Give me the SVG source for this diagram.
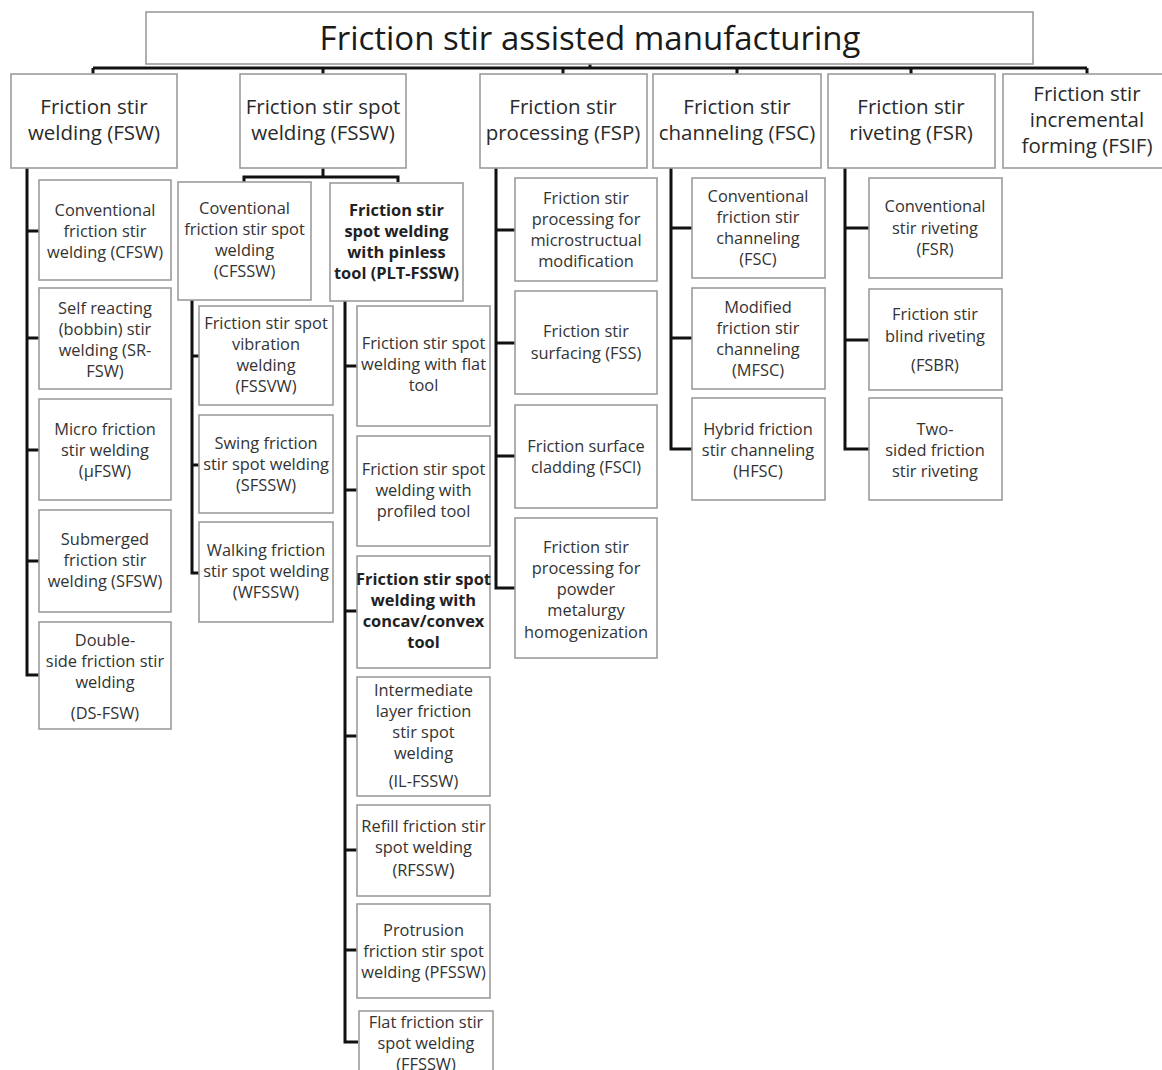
<svg xmlns="http://www.w3.org/2000/svg" width="1162" height="1070" viewBox="0 0 1162 1070">
<style>
rect{fill:#fff;stroke:#9c9c9c;stroke-width:1.6}
text{font-family:"Open Sans","Liberation Sans",sans-serif;fill:#333;text-anchor:middle}
.t0{font-size:33px;fill:#1a1a1a}
.t1{font-size:20.5px;fill:#2a2a2a}
.t2{font-size:16.4px}
.b{font-weight:bold;fill:#222}
#connectors path{fill:none;stroke:#111;stroke-width:3}
</style>
<rect x="0" y="0" width="1162" height="1070" style="fill:#fff;stroke:none"/>
<g id="connectors">
<path d="M590 64V68M93 68H1087M93 68V74M323 68V74M563 68V74M737 68V74M911 68V74M1087 68V74"/>
<path d="M27 168V675H39M27 231H39M27 338H39M27 450H39M27 561H39"/>
<path d="M323 168V177M244 182V177H398V182"/>
<path d="M192 300V573H199M192 356H199M192 465H199"/>
<path d="M345 301V1042H358M345 366H357M345 490H357M345 611H357M345 736H357M345 850H357M345 950H357"/>
<path d="M496 168V588H515M496 230H515M496 343H515M496 456H515"/>
<path d="M671 168V449H692M671 228H692M671 338H692"/>
<path d="M845 168V449H869M845 228H869M845 340H869"/>
</g>
<g id="root"><rect x="146" y="12" width="887" height="52"/><text class="t0" x="590" y="50">Friction stir assisted manufacturing</text></g>
<g id="fsw"><rect x="11" y="74" width="166" height="94"/><text class="t1"><tspan x="94" y="114">Friction stir</tspan><tspan x="94" y="140">welding (FSW)</tspan></text></g>
<g id="fssw"><rect x="240" y="74" width="166" height="94"/><text class="t1"><tspan x="323" y="114">Friction stir spot</tspan><tspan x="323" y="140">welding (FSSW)</tspan></text></g>
<g id="fsp"><rect x="480" y="74" width="167" height="94"/><text class="t1"><tspan x="563" y="114">Friction stir</tspan><tspan x="563" y="140">processing (FSP)</tspan></text></g>
<g id="fsc"><rect x="653" y="74" width="168" height="94"/><text class="t1"><tspan x="737" y="114">Friction stir</tspan><tspan x="737" y="140">channeling (FSC)</tspan></text></g>
<g id="fsr"><rect x="828" y="74" width="167" height="94"/><text class="t1"><tspan x="911" y="114">Friction stir</tspan><tspan x="911" y="140">riveting (FSR)</tspan></text></g>
<g id="fsif"><rect x="1003" y="74" width="170" height="94"/><text class="t1"><tspan x="1087" y="101">Friction stir</tspan><tspan x="1087" y="127">incremental</tspan><tspan x="1087" y="153">forming (FSIF)</tspan></text></g>

<g id="cfsw"><rect x="39" y="180" width="132" height="100"/><text class="t2"><tspan x="105" y="216">Conventional</tspan><tspan x="105" y="237">friction stir</tspan><tspan x="105" y="258">welding (CFSW)</tspan></text></g>
<g id="srfsw"><rect x="39" y="288" width="132" height="101"/><text class="t2"><tspan x="105" y="314">Self reacting</tspan><tspan x="105" y="335">(bobbin) stir</tspan><tspan x="105" y="356">welding  (SR-</tspan><tspan x="105" y="377">FSW)</tspan></text></g>
<g id="ufsw"><rect x="39" y="399" width="132" height="101"/><text class="t2"><tspan x="105" y="435">Micro friction</tspan><tspan x="105" y="456">stir welding</tspan><tspan x="105" y="477">(µFSW)</tspan></text></g>
<g id="sfsw"><rect x="39" y="510" width="132" height="102"/><text class="t2"><tspan x="105" y="545">Submerged</tspan><tspan x="105" y="566">friction stir</tspan><tspan x="105" y="587">welding (SFSW)</tspan></text></g>
<g id="dsfsw"><rect x="39" y="622" width="132" height="107"/><text class="t2"><tspan x="105" y="646">Double-</tspan><tspan x="105" y="667">side friction stir</tspan><tspan x="105" y="688">welding</tspan><tspan x="105" y="719">(DS-FSW)</tspan></text></g>

<g id="cfssw"><rect x="178" y="182" width="133" height="118"/><text class="t2"><tspan x="244.5" y="214">Coventional</tspan><tspan x="244.5" y="235">friction stir spot</tspan><tspan x="244.5" y="256">welding</tspan><tspan x="244.5" y="277">(CFSSW)</tspan></text></g>
<g id="pltfssw"><rect x="330" y="183" width="133" height="118"/><text class="t2 b"><tspan x="396.5" y="216">Friction  stir</tspan><tspan x="396.5" y="237">spot welding</tspan><tspan x="396.5" y="258">with pinless</tspan><tspan x="396.5" y="279">tool (PLT-FSSW)</tspan></text></g>

<g id="fssvw"><rect x="199" y="306" width="134" height="99"/><text class="t2"><tspan x="266" y="329">Friction stir spot</tspan><tspan x="266" y="350">vibration</tspan><tspan x="266" y="371">welding</tspan><tspan x="266" y="392">(FSSVW)</tspan></text></g>
<g id="sfssw"><rect x="199" y="415" width="134" height="98"/><text class="t2"><tspan x="266" y="449">Swing friction</tspan><tspan x="266" y="470">stir spot welding</tspan><tspan x="266" y="491">(SFSSW)</tspan></text></g>
<g id="wfssw"><rect x="199" y="522" width="134" height="100"/><text class="t2"><tspan x="266" y="556">Walking friction</tspan><tspan x="266" y="577">stir spot welding</tspan><tspan x="266" y="598">(WFSSW)</tspan></text></g>

<g id="flat-tool"><rect x="357" y="306" width="133" height="120"/><text class="t2"><tspan x="423.5" y="349">Friction stir spot</tspan><tspan x="423.5" y="370">welding with flat</tspan><tspan x="423.5" y="391">tool</tspan></text></g>
<g id="profiled-tool"><rect x="357" y="436" width="133" height="110"/><text class="t2"><tspan x="423.5" y="475">Friction stir spot</tspan><tspan x="423.5" y="496">welding with</tspan><tspan x="423.5" y="517">profiled tool</tspan></text></g>
<g id="concav-tool"><rect x="357" y="556" width="133" height="112"/><text class="t2 b"><tspan x="423.5" y="585">Friction stir spot</tspan><tspan x="423.5" y="606">welding with</tspan><tspan x="423.5" y="627">concav/convex</tspan><tspan x="423.5" y="648">tool</tspan></text></g>
<g id="ilfssw"><rect x="357" y="677" width="133" height="119"/><text class="t2"><tspan x="423.5" y="696">Intermediate</tspan><tspan x="423.5" y="717">layer friction</tspan><tspan x="423.5" y="738">stir spot</tspan><tspan x="423.5" y="759">welding</tspan><tspan x="423.5" y="787">(IL-FSSW)</tspan></text></g>
<g id="rfssw"><rect x="357" y="805" width="133" height="91"/><text class="t2"><tspan x="423.5" y="832">Refill friction stir</tspan><tspan x="423.5" y="853">spot welding</tspan><tspan x="423.5" y="876">(RFSSW<tspan style="font-size:19px">)</tspan></tspan></text></g>
<g id="pfssw"><rect x="357" y="904" width="133" height="94"/><text class="t2"><tspan x="423.5" y="936">Protrusion</tspan><tspan x="423.5" y="957">friction stir spot</tspan><tspan x="423.5" y="978">welding (PFSSW)</tspan></text></g>
<g id="ffssw"><rect x="359" y="1011" width="134" height="70"/><text class="t2"><tspan x="426" y="1028">Flat friction stir</tspan><tspan x="426" y="1049">spot welding</tspan><tspan x="426" y="1070">(FFSSW)</tspan></text></g>

<g id="fsp-micro"><rect x="515" y="178" width="142" height="103"/><text class="t2"><tspan x="586" y="204">Friction stir</tspan><tspan x="586" y="225">processing for</tspan><tspan x="586" y="246">microstructual</tspan><tspan x="586" y="267">modification</tspan></text></g>
<g id="fss"><rect x="515" y="291" width="142" height="103"/><text class="t2"><tspan x="586" y="337">Friction stir</tspan><tspan x="586" y="359">surfacing  (FSS)</tspan></text></g>
<g id="fscl"><rect x="515" y="405" width="142" height="103"/><text class="t2"><tspan x="586" y="452">Friction surface</tspan><tspan x="586" y="473">cladding (FSCl)</tspan></text></g>
<g id="fsp-powder"><rect x="515" y="518" width="142" height="140"/><text class="t2"><tspan x="586" y="553">Friction stir</tspan><tspan x="586" y="574">processing for</tspan><tspan x="586" y="595">powder</tspan><tspan x="586" y="616">metalurgy</tspan><tspan x="586" y="638">homogenization</tspan></text></g>

<g id="cfsc"><rect x="692" y="178" width="133" height="100"/><text class="t2"><tspan x="758" y="202">Conventional</tspan><tspan x="758" y="223">friction stir</tspan><tspan x="758" y="244">channeling</tspan><tspan x="758" y="265">(FSC)</tspan></text></g>
<g id="mfsc"><rect x="692" y="288" width="133" height="101"/><text class="t2"><tspan x="758" y="313">Modified</tspan><tspan x="758" y="334">friction stir</tspan><tspan x="758" y="355">channeling</tspan><tspan x="758" y="376">(MFSC)</tspan></text></g>
<g id="hfsc"><rect x="692" y="398" width="133" height="102"/><text class="t2"><tspan x="758" y="435">Hybrid friction</tspan><tspan x="758" y="456">stir channeling</tspan><tspan x="758" y="477">(HFSC)</tspan></text></g>

<g id="cfsr"><rect x="869" y="178" width="133" height="100"/><text class="t2"><tspan x="935" y="212">Conventional</tspan><tspan x="935" y="234">stir riveting</tspan><tspan x="935" y="255">(FSR)</tspan></text></g>
<g id="fsbr"><rect x="869" y="289" width="133" height="101"/><text class="t2"><tspan x="935" y="320">Friction stir</tspan><tspan x="935" y="342">blind riveting</tspan><tspan x="935" y="371">(FSBR)</tspan></text></g>
<g id="tsfsr"><rect x="869" y="398" width="133" height="102"/><text class="t2"><tspan x="935" y="435">Two-</tspan><tspan x="935" y="456">sided friction</tspan><tspan x="935" y="477">stir riveting</tspan></text></g>
</svg>
